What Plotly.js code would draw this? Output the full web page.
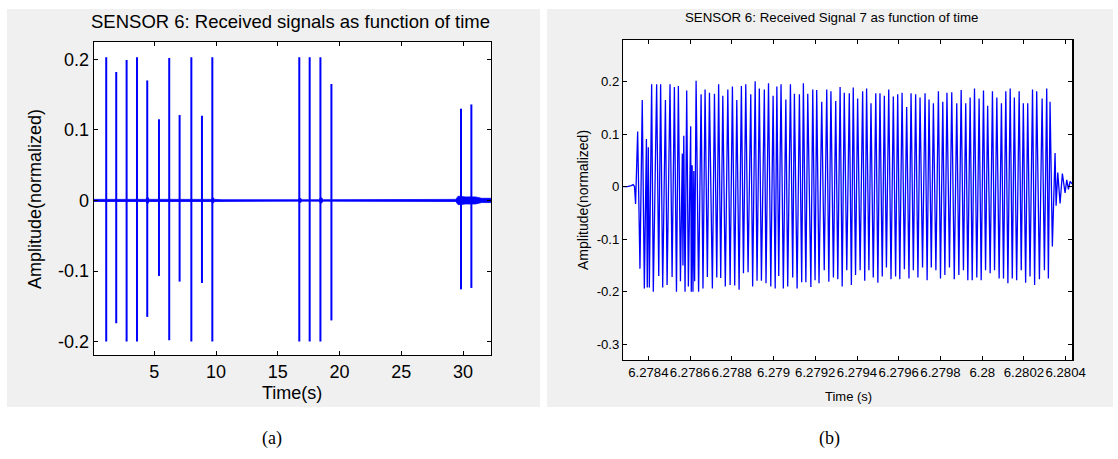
<!DOCTYPE html>
<html>
<head>
<meta charset="utf-8">
<script src="https://cdn.plot.ly/plotly-3.0.1.min.js"></script>
<style>html,body{margin:0;padding:0;background:#fff;}#chart{width:1118px;height:459px;}</style>
</head>
<body>
<div id="chart"></div>
<script>
// ---------- Panel (a): all received signals ----------
const spikeTimes   = [1.11, 1.92, 2.76, 3.60, 4.43, 5.38, 6.21, 7.05, 8.00, 8.86, 9.70, 16.74, 17.58, 18.45, 19.34, 29.83, 30.67];
const spikeTops    = [0.203, 0.182, 0.199, 0.203, 0.170, 0.115, 0.202, 0.121, 0.203, 0.120, 0.203, 0.203, 0.203, 0.203, 0.165, 0.130, 0.136];
const spikeBottoms = [-0.200, -0.174, -0.200, -0.200, -0.165, -0.107, -0.198, -0.115, -0.200, -0.117, -0.200, -0.200, -0.200, -0.200, -0.170, -0.126, -0.124];
const noiseTimes   = [0.12, 3.5, 3.6, 3.7, 4.3, 4.45, 4.6, 9.6, 9.75, 9.9, 10.5, 16.6, 16.8, 17.0, 18.3, 18.5, 18.7, 29.4, 29.6, 30.2, 31.0, 31.5, 32.26];
const noiseAmps    = [0.0015, 0.0015, 0.004, 0.0015, 0.0015, 0.005, 0.0015, 0.0015, 0.004, 0.0015, 0.001, 0.001, 0.003, 0.001, 0.001, 0.004, 0.001, 0.0015, 0.006, 0.005, 0.005, 0.003, 0.003];
const leftXTicks = [5, 10, 15, 20, 25, 30];
const leftYTicks = [-0.2, -0.1, 0, 0.1, 0.2];
const leftYLabels = ["-0.2", "-0.1", "0", "0.1", "0.2"];

// ---------- Panel (b): signal 7 (time in microseconds after 6.2784 s) ----------
const sig7Us = [-120, -100, -82, -72, -66, -61, -51, -40, -29, -19, -9, -5, 0, 5, 16, 24, 40, 50, 59, 69, 82, 90, 104, 114, 125, 135, 144, 154,
  163, 166, 170, 176, 184, 192, 203, 206, 210, 214, 218, 222, 229, 241, 253, 262, 272, 283, 293, 307, 317, 328, 337, 347, 357, 369, 381, 392,
  403, 414, 424, 435, 446, 456, 467, 478, 491, 500, 512, 521, 532, 542, 556, 564, 576, 587, 598, 608, 616, 625, 636, 647, 659, 668, 681, 692,
  700, 713, 724, 735, 743, 755, 764, 779, 788, 799, 807, 818,
  831, 843, 855, 865, 875, 887, 898, 908, 919, 929, 939, 951, 963, 973, 982, 993, 1003, 1015, 1027, 1037, 1046, 1057, 1067, 1078, 1090, 1100,
  1110, 1121, 1131, 1141, 1152, 1163, 1174, 1185, 1195, 1205, 1216, 1227, 1238, 1249, 1259, 1270, 1281, 1292, 1302, 1314, 1326, 1336, 1345,
  1356, 1366, 1378, 1390, 1400, 1411, 1421, 1431, 1443, 1454, 1466, 1478, 1488, 1499, 1510, 1521, 1531, 1542, 1552, 1563, 1574, 1585, 1595,
  1606, 1616, 1626, 1638, 1649, 1659, 1670, 1681, 1692, 1702, 1713, 1723, 1734, 1744, 1754, 1765, 1777, 1787, 1797, 1808, 1818, 1829, 1841,
  1851, 1861, 1874, 1887, 1898, 1909, 1917, 1925, 1936, 1949, 1954, 1962, 1973, 1984, 1997, 2005, 2013, 2021, 2032];
const sig7Amp = [0.000, 0.000, 0.002, 0.004, 0.000, -0.033, 0.105, -0.156, 0.165, -0.194, 0.091, -0.192, 0.075, -0.192, 0.195, -0.200, 0.195, -0.170, 0.195, -0.192, 0.165, -0.187, 0.195, -0.172, 0.190, -0.200, 0.192, -0.180,
  0.063, -0.150, 0.097, -0.200, 0.183, -0.190, 0.115, -0.200, 0.041, -0.200, 0.030, -0.180, 0.202, -0.200, 0.176, -0.194, 0.185, -0.172, 0.179, -0.194, 0.177, -0.173, 0.195, -0.174, 0.173, -0.190, 0.185, -0.187,
  0.191, -0.188, 0.165, -0.196, 0.192, -0.165, 0.195, -0.163, 0.176, -0.190, 0.201, -0.179, 0.187, -0.179, 0.185, -0.184, 0.197, -0.190, 0.173, -0.194, 0.191, -0.170, 0.195, -0.194, 0.166, -0.190, 0.195, -0.173,
  0.177, -0.194, 0.176, -0.182, 0.197, -0.182, 0.177, -0.191, 0.185, -0.178, 0.184, -0.184,
  0.162, -0.159, 0.185, -0.181, 0.182, -0.173, 0.163, -0.176, 0.190, -0.190, 0.179, -0.159, 0.178, -0.187, 0.189, -0.168, 0.168, -0.159, 0.182, -0.179, 0.187, -0.159, 0.159, -0.173, 0.178, -0.183,
  0.178, -0.171, 0.173, -0.154, 0.185, -0.176, 0.172, -0.171, 0.176, -0.176, 0.179, -0.157, 0.152, -0.175, 0.178, -0.159, 0.176, -0.173, 0.170, -0.154, 0.178, -0.178, 0.166,
  -0.154, 0.159, -0.159, 0.182, -0.175, 0.162, -0.168, 0.179, -0.154, 0.180, -0.176, 0.159, -0.168, 0.184, -0.159, 0.159, -0.178, 0.170, -0.178, 0.187, -0.173, 0.168, -0.178,
  0.183, -0.159, 0.154, -0.165, 0.182, -0.159, 0.170, -0.175, 0.159, -0.175, 0.182, -0.184, 0.187, -0.175, 0.170, -0.178, 0.182, -0.159, 0.159, -0.183, 0.159, -0.171, 0.185,
  -0.187, 0.182, -0.176, 0.168, -0.159, 0.187, -0.175, 0.162, -0.114, 0.064, -0.036, 0.027, -0.032, 0.025, -0.012, 0.013, -0.005, 0.010, 0.005];
const sig7Base = 6.2784;
const rightXTicks  = [6.2784, 6.2786, 6.2788, 6.2790, 6.2792, 6.2794, 6.2796, 6.2798, 6.2800, 6.2802, 6.2804];
const rightXLabels = ["6.2784", "6.2786", "6.2788", "6.279", "6.2792", "6.2794", "6.2796", "6.2798", "6.28", "6.2802", "6.2804"];
const rightYTicks  = [-0.3, -0.2, -0.1, 0, 0.1, 0.2];
const rightYLabels = ["-0.3", "-0.2", "-0.1", "0", "0.1", "0.2"];

// ---------- build traces ----------
const W = 1118, H = 459;
const fx = v => v / W, fy = v => 1 - v / H;
const BLUE = '#0000ff';

const spikeX = [], spikeY = [];
spikeTimes.forEach((t, i) => { spikeX.push(t, t, null); spikeY.push(spikeBottoms[i], spikeTops[i], null); });

const bandX = noiseTimes.concat(noiseTimes.slice().reverse());
const bandY = noiseAmps.concat(noiseAmps.slice().reverse().map(a => -a));

const traces = [
  {x: bandX, y: bandY, xaxis: 'x', yaxis: 'y', mode: 'lines', fill: 'toself', fillcolor: BLUE,
   line: {color: BLUE, width: 0.8}, hoverinfo: 'skip', showlegend: false},
  {x: spikeX, y: spikeY, xaxis: 'x', yaxis: 'y', mode: 'lines', line: {color: BLUE, width: 2}, showlegend: false},
  {x: sig7Us.map(u => sig7Base + u * 1e-6), y: sig7Amp, xaxis: 'x2', yaxis: 'y2', mode: 'lines',
   line: {color: BLUE, width: 1.3}, showlegend: false}
];

const axBase = {showline: true, linecolor: '#000', linewidth: 1.3, mirror: 'ticks', ticks: 'inside',
  ticklen: 4, tickcolor: '#000', showgrid: false, zeroline: false, automargin: false, fixedrange: true, tickangle: 0};
const LF = {family: 'Liberation Sans, Arial, sans-serif', size: 18, color: '#000'};
const RF = {family: 'Liberation Sans, Arial, sans-serif', size: 13.2, color: '#000'};

const layout = {
  width: W, height: H,
  margin: {l: 0, r: 0, t: 0, b: 0},
  paper_bgcolor: '#ffffff', plot_bgcolor: '#ffffff',
  showlegend: false,
  xaxis: Object.assign({}, axBase, {domain: [fx(94), fx(491)], range: [0.12, 32.26], anchor: 'y',
    tickmode: 'array', tickvals: leftXTicks, tickfont: LF}),
  yaxis: Object.assign({}, axBase, {domain: [fy(355), fy(42)], range: [-0.219, 0.2245], anchor: 'x',
    tickmode: 'array', tickvals: leftYTicks, ticktext: leftYLabels, tickfont: LF}),
  xaxis2: Object.assign({}, axBase, {domain: [fx(623.3), fx(1072.3)], range: [6.2782802, 6.2804316], anchor: 'y2',
    tickmode: 'array', tickvals: rightXTicks, ticktext: rightXLabels, tickfont: RF}),
  yaxis2: Object.assign({}, axBase, {domain: [fy(360), fy(40)], range: [-0.330, 0.2794], anchor: 'x2',
    tickmode: 'array', tickvals: rightYTicks, ticktext: rightYLabels, tickfont: RF}),
  shapes: [
    {type: 'rect', xref: 'paper', yref: 'paper', x0: fx(7), x1: fx(540), y0: fy(407), y1: fy(9), fillcolor: '#f0f0f0', line: {width: 0}, layer: 'below'},
    {type: 'rect', xref: 'paper', yref: 'paper', x0: fx(547), x1: fx(1113), y0: fy(407), y1: fy(9), fillcolor: '#f0f0f0', line: {width: 0}, layer: 'below'},
    {type: 'rect', xref: 'paper', yref: 'paper', x0: fx(94), x1: fx(491), y0: fy(355), y1: fy(42), fillcolor: '#ffffff', line: {width: 0}, layer: 'below'},
    {type: 'rect', xref: 'paper', yref: 'paper', x0: fx(623.3), x1: fx(1072.3), y0: fy(360), y1: fy(40), fillcolor: '#ffffff', line: {width: 0}, layer: 'below'}
  ],
  annotations: [
    {text: 'SENSOR 6: Received signals as function of time', x: fx(290), y: fy(22), xref: 'paper', yref: 'paper',
     showarrow: false, xanchor: 'center', yanchor: 'middle', font: Object.assign({}, LF, {size: 18.5})},
    {text: 'Time(s)', x: fx(292), y: fy(393), xref: 'paper', yref: 'paper', showarrow: false, xanchor: 'center', yanchor: 'middle', font: LF},
    {text: 'Amplitude(normalized)', x: fx(35), y: fy(199), xref: 'paper', yref: 'paper', showarrow: false, textangle: -90,
     xanchor: 'center', yanchor: 'middle', font: LF},
    {text: 'SENSOR 6: Received Signal 7 as function of time', x: fx(831), y: fy(18), xref: 'paper', yref: 'paper',
     showarrow: false, xanchor: 'center', yanchor: 'middle', font: Object.assign({}, RF, {size: 13.3})},
    {text: 'Time (s)', x: fx(848), y: fy(396), xref: 'paper', yref: 'paper', showarrow: false, xanchor: 'center', yanchor: 'middle',
     font: Object.assign({}, RF, {size: 13})},
    {text: 'Amplitude(normalized)', x: fx(583), y: fy(200), xref: 'paper', yref: 'paper', showarrow: false, textangle: -90,
     xanchor: 'center', yanchor: 'middle', font: Object.assign({}, RF, {size: 14})},
    {text: '(a)', x: fx(272), y: fy(438), xref: 'paper', yref: 'paper', showarrow: false, xanchor: 'center', yanchor: 'middle',
     font: {family: 'Liberation Serif, Times New Roman, serif', size: 18, color: '#000'}},
    {text: '(b)', x: fx(829), y: fy(438), xref: 'paper', yref: 'paper', showarrow: false, xanchor: 'center', yanchor: 'middle',
     font: {family: 'Liberation Serif, Times New Roman, serif', size: 18, color: '#000'}}
  ]
};

Plotly.newPlot('chart', traces, layout, {displayModeBar: false, staticPlot: true});
</script>
</body>
</html>
